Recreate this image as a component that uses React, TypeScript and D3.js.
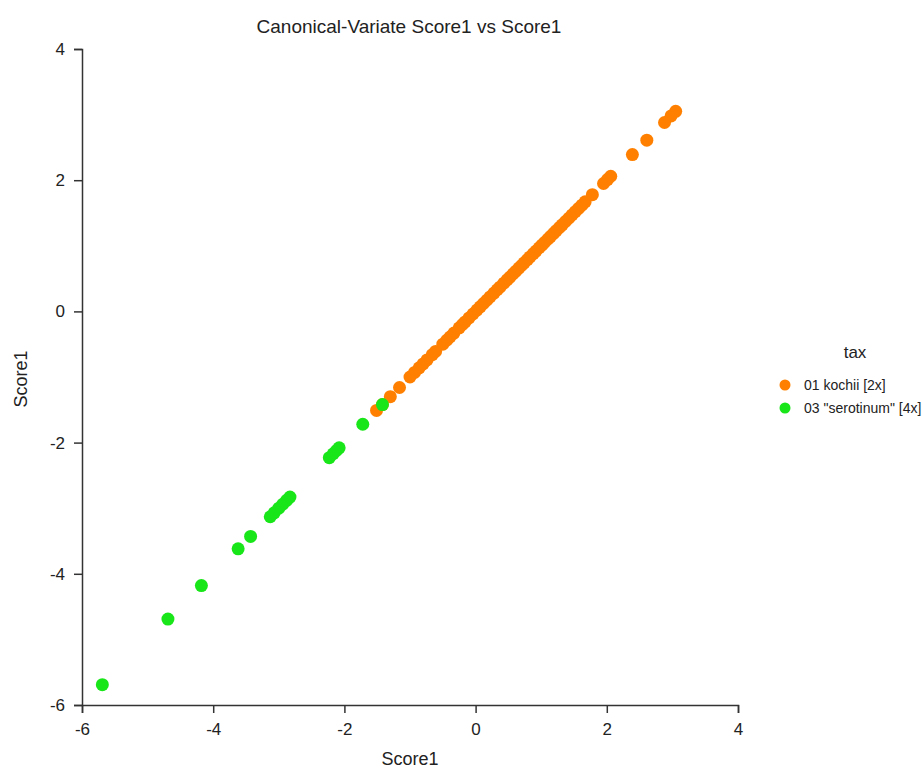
import React, { useEffect, useRef } from 'react';
import * as d3 from 'd3';

// canonical variate scores (x == y, plotted against itself)
const kochii = [
  -1.51, -1.42, -1.30, -1.16, -1.00, -0.93, -0.86, -0.80, -0.74, -0.66, -0.61,
  -0.50, -0.44, -0.39, -0.33, -0.25, -0.20, -0.16, -0.10, -0.04, 0.02, 0.07,
  0.12, 0.17, 0.22, 0.28, 0.33, 0.37, 0.43, 0.48, 0.52, 0.57, 0.61, 0.66, 0.70,
  0.74, 0.79, 0.83, 0.88, 0.92, 0.97, 1.01, 1.05, 1.10, 1.14, 1.19, 1.23, 1.28,
  1.32, 1.37, 1.42, 1.47, 1.52, 1.57, 1.62, 1.67, 1.78, 1.95, 2.01, 2.06, 2.39,
  2.61, 2.88, 2.98, 3.05,
];
const serotinum = [
  -5.69, -4.69, -4.18, -3.62, -3.43, -3.13, -3.07, -3.00, -2.94, -2.88, -2.83,
  -2.23, -2.17, -2.12, -2.08, -1.72, -1.42,
];
const groups = ['01 kochii [2x]', '03 "serotinum" [4x]'];
const colors = ['#ff8000', '#19e619'];
const ticks = [-6, -4, -2, 0, 2, 4];

const App = () => {
  const ref = useRef(null);
  const width = 923;
  const height = 770;
  const font = 'Arial, "Liberation Sans", sans-serif';

  useEffect(() => {
    const svg = d3.select(ref.current);
    svg.selectAll('*').remove();

    const x = d3.scaleLinear().domain([-6, 4]).range([82, 738]);
    const y = d3.scaleLinear().domain([-6, 4]).range([705, 49]);
    const fmt = (d) => String(d); // plain hyphen, like the original

    const xAxis = svg.append('g')
      .attr('transform', 'translate(0,705)')
      .call(d3.axisBottom(x).tickValues(ticks).tickFormat(fmt).tickSize(8).tickPadding(10));
    const yAxis = svg.append('g')
      .attr('transform', 'translate(82,0)')
      .call(d3.axisLeft(y).tickValues(ticks).tickFormat(fmt).tickSize(8).tickPadding(9));

    [xAxis, yAxis].forEach((a) => {
      a.selectAll('path, line').attr('stroke', '#333').attr('stroke-width', 1.5);
      a.selectAll('text')
        .attr('font-family', font)
        .attr('font-size', 17)
        .attr('fill', '#222');
    });

    const series = [kochii, serotinum];
    series.forEach((vals, i) => {
      svg.append('g')
        .selectAll('circle')
        .data(vals)
        .enter()
        .append('circle')
        .attr('cx', (d) => x(d))
        .attr('cy', (d) => y(d))
        .attr('r', 6.5)
        .attr('fill', colors[i]);
    });

    svg.append('text')
      .attr('x', 409)
      .attr('y', 33)
      .attr('text-anchor', 'middle')
      .attr('font-family', font)
      .attr('font-size', 19)
      .attr('fill', '#222')
      .text('Canonical-Variate Score1 vs Score1');

    svg.append('text')
      .attr('x', 410)
      .attr('y', 765)
      .attr('text-anchor', 'middle')
      .attr('font-family', font)
      .attr('font-size', 18)
      .attr('fill', '#222')
      .text('Score1');

    svg.append('text')
      .attr('transform', 'translate(27,379) rotate(-90)')
      .attr('text-anchor', 'middle')
      .attr('font-family', font)
      .attr('font-size', 18)
      .attr('fill', '#222')
      .text('Score1');

    // legend
    const legend = svg.append('g');
    legend.append('text')
      .attr('x', 855)
      .attr('y', 358)
      .attr('text-anchor', 'middle')
      .attr('font-family', font)
      .attr('font-size', 17)
      .attr('fill', '#222')
      .text('tax');
    groups.forEach((g, i) => {
      legend.append('circle')
        .attr('cx', 785)
        .attr('cy', 385 + i * 23)
        .attr('r', 5.5)
        .attr('fill', colors[i]);
      legend.append('text')
        .attr('x', 804)
        .attr('y', 390 + i * 23)
        .attr('font-family', font)
        .attr('font-size', 14)
        .attr('fill', '#222')
        .text(g);
    });
  }, []);

  return (
    <svg
      ref={ref}
      width={width}
      height={height}
      style={{ position: 'absolute', left: 0, top: 0, background: '#fff' }}
    ></svg>
  );
};

export default App;
